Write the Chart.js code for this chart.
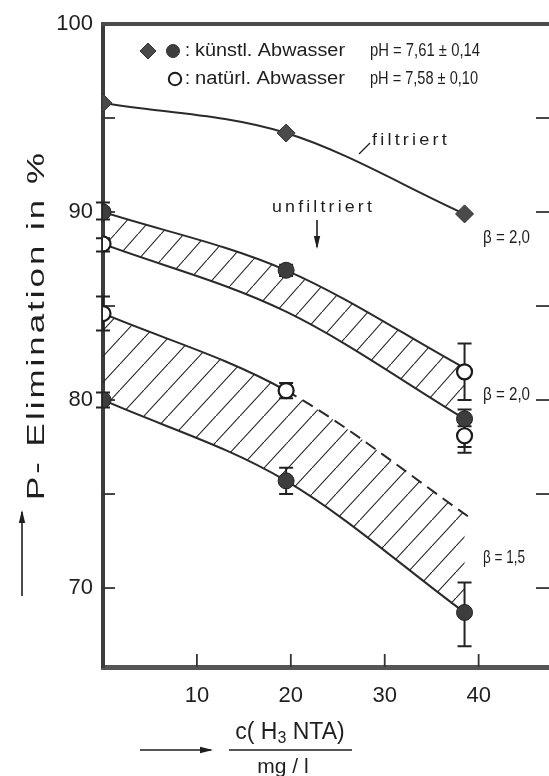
<!DOCTYPE html>
<html>
<head>
<meta charset="utf-8">
<script src="https://cdn.jsdelivr.net/npm/chart.js@4.4.1/dist/chart.umd.min.js"></script>
<style>
  html, body { margin: 0; padding: 0; background: #fff; overflow: hidden; }
  #wrap { width: 549px; height: 776px; overflow: hidden; position: relative; }
  canvas { display: block; }
</style>
</head>
<body>
<div id="wrap"><canvas id="c" width="560" height="776"></canvas></div>
<script>
// c(H3NTA) in mg/l at which the samples were taken
const concLevels = [0, 19.5, 38.5];

// filtered samples, artificial wastewater (P elimination in %)
const filtriertP = [95.8, 94.2, 89.9];

// unfiltered, artificial wastewater, beta = 2.0
const kuenstlB20P  = [90.0, 86.9, 79.0];
const kuenstlB20Lo = [89.6, 86.6, 77.5];
const kuenstlB20Hi = [90.5, 87.2, 79.5];

// unfiltered, artificial wastewater, beta = 1.5
const kuenstlB15P  = [80.0, 75.7, 68.7];
const kuenstlB15Lo = [79.6, 75.0, 66.9];
const kuenstlB15Hi = [80.4, 76.4, 70.3];

// unfiltered, natural wastewater
const natuerlX  = [0, 0, 19.5, 38.5, 38.5];
const natuerlP  = [88.3, 84.6, 80.5, 81.5, 78.1];
const natuerlLo = [87.9, 83.7, 80.1, 80.0, 77.2];
const natuerlHi = [88.6, 85.5, 80.9, 83.0, 78.6];

// outlines of the hatched ranges
const bandB20TopX = [0, 19.5, 38.5];
const bandB20TopP = [90.0, 86.9, 81.7];
const bandB20BotX = [0, 19.5, 38.5];
const bandB20BotP = [88.3, 84.7, 79.0];
const bandB15TopX = [0, 19.5, 39.2];   // dashed beyond the second point
const bandB15TopP = [84.6, 80.5, 73.7];
const bandB15BotX = [0, 19.5, 38.5];
const bandB15BotP = [80.0, 75.7, 68.7];

// axes
const xTickValues = [10, 20, 30, 40];
const yTickValues = [70, 75, 80, 85, 90, 95, 100];
const yLabelValues = [70, 80, 90, 100];

const FONT = '"Liberation Sans", "DejaVu Sans", Arial, sans-serif';
const INK = '#1e1e1e';

const pts = (xs, ys) => xs.map((x, i) => ({ x, y: ys[i] }));

function hatch(w, h) {
  const c = document.createElement('canvas');
  c.width = w; c.height = h;
  const g = c.getContext('2d');
  g.strokeStyle = '#222';
  g.lineWidth = 1.1;
  g.beginPath();
  g.moveTo(-w, 2 * h);
  g.lineTo(2 * w, -h);
  g.stroke();
  return g.createPattern(c, 'repeat');
}

function drawText(ctx, s, x, y, size, fitW, align, spacing) {
  ctx.save();
  ctx.font = size + 'px ' + FONT;
  ctx.letterSpacing = (spacing || 0) + 'px';
  ctx.textBaseline = 'middle';
  ctx.textAlign = 'left';
  ctx.fillStyle = INK;
  const w = ctx.measureText(s).width;
  const sx = fitW ? fitW / w : 1;
  let x0 = x;
  if (align === 'center') x0 = x - w * sx / 2;
  else if (align === 'right') x0 = x - w * sx;
  ctx.translate(x0, y);
  ctx.scale(sx, 1);
  ctx.fillText(s, 0, 0);
  ctx.restore();
}

function arrow(ctx, x1, y1, x2, y2) {
  const a = Math.atan2(y2 - y1, x2 - x1);
  ctx.save();
  ctx.strokeStyle = INK; ctx.fillStyle = INK; ctx.lineWidth = 1.6;
  ctx.beginPath(); ctx.moveTo(x1, y1); ctx.lineTo(x2, y2); ctx.stroke();
  ctx.translate(x2, y2); ctx.rotate(a);
  ctx.beginPath(); ctx.moveTo(2, 0); ctx.lineTo(-11, -3.2); ctx.lineTo(-11, 3.2); ctx.closePath(); ctx.fill();
  ctx.restore();
}

// frame line on top plus inward tick marks on all sides
const frame = {
  id: 'frame',
  beforeDatasetsDraw(chart) {
    const { ctx, chartArea: a, scales: { x, y } } = chart;
    ctx.save();
    ctx.strokeStyle = '#4a4a4a';
    ctx.lineWidth = 4;
    ctx.beginPath(); ctx.moveTo(a.left - 2, a.top); ctx.lineTo(a.right, a.top); ctx.stroke();
    ctx.strokeStyle = '#333';
    ctx.lineWidth = 1.8;
    yTickValues.forEach(v => {
      if (v >= 100) return;
      const py = y.getPixelForValue(v);
      ctx.beginPath(); ctx.moveTo(a.left, py); ctx.lineTo(a.left + 12, py); ctx.stroke();
      ctx.beginPath(); ctx.moveTo(a.right - 14, py); ctx.lineTo(a.right, py); ctx.stroke();
    });
    xTickValues.forEach(v => {
      const px = x.getPixelForValue(v);
      ctx.beginPath(); ctx.moveTo(px, a.bottom); ctx.lineTo(px, a.bottom - 13); ctx.stroke();
    });
    ctx.restore();
  }
};

// vertical spread bars with end caps
const errorBars = {
  id: 'errorBars',
  beforeDatasetsDraw(chart) {
    const { ctx, scales: { x, y } } = chart;
    ctx.save();
    ctx.strokeStyle = '#222';
    ctx.lineWidth = 2;
    chart.data.datasets.forEach(ds => {
      if (!ds.errLo) return;
      ds.data.forEach((p, i) => {
        const px = x.getPixelForValue(p.x);
        const lo = y.getPixelForValue(ds.errLo[i]);
        const hi = y.getPixelForValue(ds.errHi[i]);
        ctx.beginPath(); ctx.moveTo(px, lo); ctx.lineTo(px, hi); ctx.stroke();
        ctx.beginPath();
        ctx.moveTo(px - 7, lo); ctx.lineTo(px + 7, lo);
        ctx.moveTo(px - 7, hi); ctx.lineTo(px + 7, hi);
        ctx.stroke();
      });
    });
    ctx.restore();
  }
};

// key, curve labels and axis titles
const notes = {
  id: 'notes',
  afterDraw(chart) {
    const ctx = chart.ctx;
    // key
    ctx.save();
    ctx.fillStyle = '#4a4a4a'; ctx.strokeStyle = '#333'; ctx.lineWidth = 1;
    ctx.beginPath(); ctx.moveTo(148, 43); ctx.lineTo(156, 51); ctx.lineTo(148, 59); ctx.lineTo(140, 51); ctx.closePath(); ctx.fill(); ctx.stroke();
    ctx.fillStyle = '#3d3d3d';
    ctx.beginPath(); ctx.arc(173, 51, 6.5, 0, Math.PI * 2); ctx.fill(); ctx.stroke();
    ctx.fillStyle = '#fff'; ctx.strokeStyle = '#1a1a1a'; ctx.lineWidth = 2;
    ctx.beginPath(); ctx.arc(175, 79, 6.2, 0, Math.PI * 2); ctx.fill(); ctx.stroke();
    ctx.restore();
    drawText(ctx, ':', 185, 51, 18);
    drawText(ctx, ':', 185, 79, 18);
    drawText(ctx, 'künstl. Abwasser', 195, 51, 18, 150);
    drawText(ctx, 'natürl. Abwasser', 195, 79, 18, 150);
    drawText(ctx, 'pH = 7,61 ± 0,14', 370, 51, 18, 110);
    drawText(ctx, 'pH = 7,58 ± 0,10', 370, 79, 18, 108);

    // curve labels
    drawText(ctx, 'filtriert', 372, 140, 17, 78, 'left', 3);
    ctx.save(); ctx.strokeStyle = INK; ctx.lineWidth = 1.3;
    ctx.beginPath(); ctx.moveTo(359, 154); ctx.lineTo(370, 143); ctx.stroke();
    ctx.restore();
    drawText(ctx, 'unfiltriert', 272, 207, 17, 103, 'left', 3);
    arrow(ctx, 317, 220, 317, 247);
    drawText(ctx, 'β = 2,0', 483, 238, 19, 47);
    drawText(ctx, 'β = 2,0', 483, 395, 19, 47);
    drawText(ctx, 'β = 1,5', 483, 558, 19, 42);

    // y title
    ctx.save();
    ctx.translate(38, 325);
    ctx.rotate(-Math.PI / 2);
    drawText(ctx, 'P- Elimination in %', 0, 0, 23, 350, 'center', 2);
    ctx.restore();
    arrow(ctx, 22, 596, 22, 512);

    // x title as a fraction
    ctx.save();
    ctx.font = '23px ' + FONT;
    ctx.textBaseline = 'middle';
    ctx.fillStyle = INK;
    const p1 = 'c( H', p2 = '3', p3 = ' NTA)';
    const w1 = ctx.measureText(p1).width, w3 = ctx.measureText(p3).width;
    ctx.font = '16px ' + FONT;
    const w2 = ctx.measureText(p2).width;
    let xs = 290 - (w1 + w2 + w3) / 2;
    ctx.font = '23px ' + FONT; ctx.fillText(p1, xs, 733); xs += w1;
    ctx.font = '16px ' + FONT; ctx.fillText(p2, xs, 739); xs += w2;
    ctx.font = '23px ' + FONT; ctx.fillText(p3, xs, 733);
    ctx.strokeStyle = INK; ctx.lineWidth = 1.6;
    ctx.beginPath(); ctx.moveTo(229, 750); ctx.lineTo(352, 750); ctx.stroke();
    ctx.restore();
    drawText(ctx, 'mg / l', 283, 767, 21, null, 'center');
    arrow(ctx, 140, 750, 211, 750);
  }
};

const lineStyle = {
  showLine: true,
  pointRadius: 0,
  borderColor: '#2a2a2a',
  borderWidth: 2,
  cubicInterpolationMode: 'monotone',
  order: 2
};

const hatchB20 = hatch(23, 26);
const hatchB15 = hatch(24, 26);

const chart = new Chart(document.getElementById('c'), {
  type: 'line',
  data: {
    datasets: [
      Object.assign({}, lineStyle, { data: pts(bandB20TopX, bandB20TopP), fill: '+1', backgroundColor: hatchB20 }),
      Object.assign({}, lineStyle, { data: pts(bandB20BotX, bandB20BotP), fill: false }),
      Object.assign({}, lineStyle, {
        data: pts(bandB15TopX, bandB15TopP), fill: '+1', backgroundColor: hatchB15,
        segment: { borderDash: c => c.p0DataIndex >= 1 ? [12, 7] : undefined }
      }),
      Object.assign({}, lineStyle, { data: pts(bandB15BotX, bandB15BotP), fill: false }),
      // filtered: curve with diamond markers
      Object.assign({}, lineStyle, {
        data: pts(concLevels, filtriertP), fill: false,
        pointStyle: 'rectRot', pointRadius: 9,
        pointBackgroundColor: '#4a4a4a', pointBorderColor: '#333', pointBorderWidth: 1,
        order: 0
      }),
      {
        data: pts(concLevels, kuenstlB20P), showLine: false, fill: false,
        errLo: kuenstlB20Lo, errHi: kuenstlB20Hi,
        pointRadius: 8, pointBackgroundColor: '#3d3d3d', pointBorderColor: '#222', pointBorderWidth: 1,
        order: 0
      },
      {
        data: pts(concLevels, kuenstlB15P), showLine: false, fill: false,
        errLo: kuenstlB15Lo, errHi: kuenstlB15Hi,
        pointRadius: 8, pointBackgroundColor: '#3d3d3d', pointBorderColor: '#222', pointBorderWidth: 1,
        order: 0
      },
      {
        data: pts(natuerlX, natuerlP), showLine: false, fill: false,
        errLo: natuerlLo, errHi: natuerlHi,
        pointRadius: 7.5, pointBackgroundColor: '#fff', pointBorderColor: '#1a1a1a', pointBorderWidth: 2.2,
        order: 0
      }
    ]
  },
  options: {
    responsive: false,
    animation: false,
    events: [],
    layout: { padding: { left: 0, right: 7, top: 24, bottom: 0 } },
    plugins: { legend: { display: false }, tooltip: { enabled: false } },
    scales: {
      x: {
        type: 'linear', min: 0, max: 47.6,
        afterBuildTicks: s => { s.ticks = xTickValues.map(v => ({ value: v })); },
        afterFit: s => { s.height = 109; },
        grid: { display: false, drawTicks: false },
        border: { display: true, width: 5, color: '#555' },
        ticks: { color: INK, font: { family: FONT, size: 22 }, padding: 16 }
      },
      y: {
        type: 'linear', min: 65.8, max: 100,
        afterBuildTicks: s => { s.ticks = yLabelValues.map(v => ({ value: v })); },
        afterFit: s => { s.width = 103; },
        grid: { display: false, drawTicks: false },
        border: { display: true, width: 4, color: '#3c3c3c' },
        ticks: { color: INK, font: { family: FONT, size: 22 }, padding: 10 }
      }
    }
  },
  plugins: [frame, errorBars, notes]
});
</script>
</body>
</html>
